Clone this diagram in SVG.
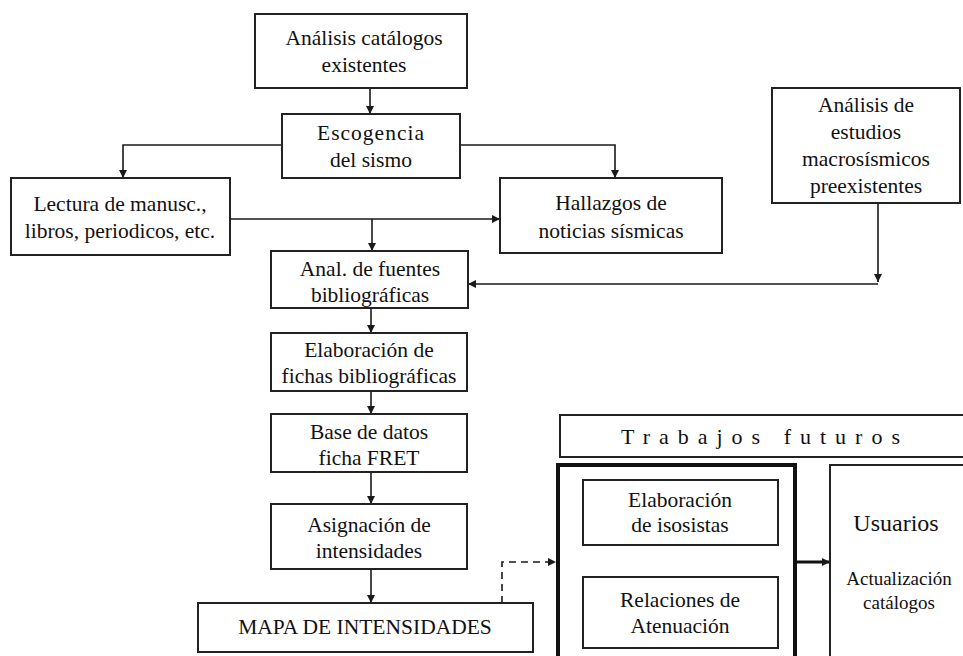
<svg xmlns="http://www.w3.org/2000/svg" width="963" height="656" viewBox="0 0 963 656">
<defs>
<marker id="ah" viewBox="0 0 10 10" refX="10" refY="5" markerWidth="8" markerHeight="8" markerUnits="userSpaceOnUse" orient="auto">
<path d="M0,0 L10,5 L0,10 z" fill="#1a1a1a"/>
</marker>
<marker id="ahg" viewBox="0 0 10 10" refX="10" refY="5" markerWidth="8" markerHeight="8" markerUnits="userSpaceOnUse" orient="auto">
<path d="M0,0 L10,5 L0,10 z" fill="#555"/>
</marker>
</defs>
<style>
rect.b{fill:#fff;stroke:#222;stroke-width:2}
rect.t{fill:#fff;stroke:#111;stroke-width:4}
text{fill:#111;text-anchor:middle}
.c{fill:none;stroke:#1a1a1a;stroke-width:1.6}
.big{font-size:24px}
.sm{font-size:19px}
.tf{font-size:22px;letter-spacing:9px}
</style>
<rect width="963" height="656" fill="#fff"/>
<g id="connectors">
<path class="c" d="M370,88 V114" marker-end="url(#ah)"/>
<path class="c" d="M282,145 H123 V178" marker-end="url(#ah)"/>
<path class="c" d="M460,145 H615 V178" marker-end="url(#ah)"/>
<path class="c" d="M230,219 H500" marker-end="url(#ah)"/>
<path class="c" d="M372,219 V251" marker-end="url(#ah)"/>
<path class="c" d="M878,203 V282" marker-end="url(#ah)"/>
<path class="c" d="M878,284 H468" marker-end="url(#ah)"/>
<path class="c" d="M371,308 V333" marker-end="url(#ah)"/>
<path class="c" d="M371,391 V414" marker-end="url(#ah)"/>
<path class="c" d="M371,472 V504" marker-end="url(#ah)"/>
<path class="c" d="M371,569 V603" marker-end="url(#ah)"/>
<path class="c" d="M502,603 V562 H556" stroke-dasharray="7,5" marker-end="url(#ah)"/>
<path d="M681,545 V577" fill="none" stroke="#666" stroke-width="1.6" stroke-dasharray="2,2" marker-end="url(#ahg)"/>
<path d="M795,562 H830" fill="none" stroke="#111" stroke-width="3" marker-end="url(#ah)"/>
</g>
<g font-family="Liberation Serif, serif" font-size="21.5">
<g id="n1"><rect class="b" x="255" y="14" width="212" height="74"/>
<text x="364" y="45">Análisis catálogos</text><text x="364" y="72">existentes</text></g>
<g id="n2"><rect class="b" x="282" y="114" width="178" height="64"/>
<text x="371" y="140" letter-spacing="1">Escogencia</text><text x="371" y="167">del sismo</text></g>
<g id="n3"><rect class="b" x="11" y="178" width="219" height="77"/>
<text x="120" y="211">Lectura de manusc.,</text><text x="120" y="238">libros, periodicos, etc.</text></g>
<g id="n4"><rect class="b" x="500" y="178" width="222" height="75"/>
<text x="611" y="210">Hallazgos de</text><text x="611" y="238">noticias sísmicas</text></g>
<g id="n5"><rect class="b" x="772" y="88" width="188" height="115"/>
<text x="866" y="112">Análisis de</text><text x="866" y="139">estudios</text><text x="866" y="166">macrosísmicos</text><text x="866" y="193">preexistentes</text></g>
<g id="n6"><rect class="b" x="271" y="251" width="197" height="57"/>
<text x="370" y="276">Anal. de fuentes</text><text x="370" y="302">bibliográficas</text></g>
<g id="n7"><rect class="b" x="271" y="333" width="196" height="58"/>
<text x="369" y="357">Elaboración de</text><text x="369" y="383">fichas bibliográficas</text></g>
<g id="n8"><rect class="b" x="271" y="414" width="196" height="58"/>
<text x="369" y="439">Base de datos</text><text x="369" y="465">ficha FRET</text></g>
<g id="n9"><rect class="b" x="271" y="504" width="196" height="65"/>
<text x="369" y="532">Asignación de</text><text x="369" y="558">intensidades</text></g>
<g id="n10"><rect class="b" x="198" y="603" width="335" height="49"/>
<text x="365" y="634">MAPA DE INTENSIDADES</text></g>
<g id="n11"><rect class="b" x="560" y="415" width="410" height="42"/>
<text class="tf" x="765" y="444">Trabajos futuros</text></g>
<g id="n12"><rect class="t" x="558" y="465" width="237" height="200"/></g>
<g id="n13"><rect class="b" x="583" y="480" width="195" height="65"/>
<text x="680" y="507">Elaboración</text><text x="680" y="532">de isosistas</text></g>
<g id="n14"><rect class="b" x="583" y="577" width="195" height="71"/>
<text x="680" y="607">Relaciones de</text><text x="680" y="633">Atenuación</text></g>
<g id="n15"><rect class="b" x="830" y="465" width="150" height="200"/>
<text class="big" x="896" y="531">Usuarios</text>
<text class="sm" x="899" y="585">Actualización</text><text class="sm" x="899" y="609">catálogos</text></g>
</g>
</svg>
